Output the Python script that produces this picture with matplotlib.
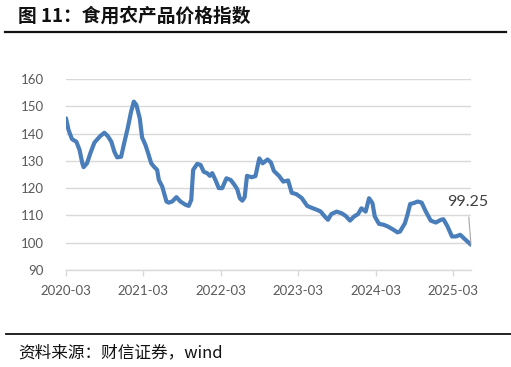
import matplotlib
matplotlib.use("Agg")
import matplotlib.pyplot as plt
from matplotlib.lines import Line2D
import pandas as pd

plt.rcParams['font.family'] = ['Lato', 'Noto Sans CJK SC', 'DejaVu Sans']

# food agricultural product price index
dates = [
    "2020-03-01", "2020-03-13", "2020-03-29", "2020-04-19", "2020-05-04", "2020-05-17",
    "2020-05-23", "2020-06-08", "2020-06-24", "2020-07-13", "2020-07-28", "2020-08-10",
    "2020-08-29", "2020-09-14", "2020-10-01", "2020-10-15", "2020-10-28", "2020-11-16",
    "2020-12-02", "2020-12-17", "2021-01-02", "2021-01-15", "2021-01-27", "2021-02-12",
    "2021-02-23", "2021-03-11", "2021-03-26", "2021-04-07", "2021-04-22", "2021-05-05",
    "2021-05-13", "2021-05-29", "2021-06-18", "2021-06-29", "2021-07-15", "2021-08-04",
    "2021-08-23", "2021-09-16", "2021-10-01", "2021-10-13", "2021-10-22", "2021-11-10",
    "2021-11-26", "2021-12-11", "2021-12-27", "2022-01-09", "2022-01-20", "2022-02-04",
    "2022-02-20", "2022-03-08", "2022-03-28", "2022-04-17", "2022-05-02", "2022-05-18",
    "2022-05-30", "2022-06-11", "2022-06-22", "2022-07-03", "2022-07-25", "2022-08-12",
    "2022-08-30", "2022-09-15", "2022-10-08", "2022-10-24", "2022-11-07", "2022-12-01",
    "2022-12-21", "2023-01-13", "2023-01-30", "2023-02-21", "2023-03-18", "2023-04-13",
    "2023-05-04", "2023-05-31", "2023-06-16", "2023-07-05", "2023-07-20", "2023-08-05",
    "2023-08-30", "2023-09-22", "2023-10-12", "2023-11-01", "2023-11-20", "2023-12-09",
    "2023-12-25", "2024-01-14", "2024-01-22", "2024-01-30", "2024-02-15", "2024-02-26",
    "2024-03-17", "2024-04-07", "2024-04-26", "2024-05-19", "2024-06-12", "2024-06-24",
    "2024-07-17", "2024-07-29", "2024-08-11", "2024-08-27", "2024-09-15", "2024-10-04",
    "2024-10-24", "2024-11-16", "2024-12-10", "2025-01-03", "2025-01-15", "2025-02-03",
    "2025-02-24", "2025-03-15", "2025-04-04", "2025-04-26", "2025-05-25",
]
values = [
    145.6, 141.3, 138.0, 137.0, 134.0, 129.1,
    127.7, 129.1, 132.8, 136.7, 138.0, 139.1,
    140.3, 139.1, 137.0, 133.4, 131.3, 131.5,
    137.0, 141.9, 148.0, 151.7, 150.5, 145.6,
    138.6, 135.8, 132.2, 129.1, 127.7, 126.7,
    123.0, 120.6, 115.1, 114.7, 115.1, 116.7,
    115.1, 113.9, 113.5, 115.7, 126.7, 128.9,
    128.5, 126.0, 125.5, 124.5, 125.5, 123.0,
    120.0, 120.0, 123.6, 123.0, 121.5, 119.6,
    116.3, 115.4, 116.7, 124.5, 124.0, 124.4,
    130.9, 129.1, 130.5, 129.4, 126.3, 124.5,
    122.4, 122.8, 118.3, 117.8, 116.4, 113.5,
    112.8, 112.0, 111.4, 109.6, 108.4, 110.5,
    111.4, 110.8, 109.8, 108.1, 109.6, 110.5,
    112.6, 111.4, 113.9, 116.3, 114.5, 109.6,
    106.9, 106.6, 106.0, 105.0, 103.8, 104.1,
    107.1, 110.2, 114.2, 114.5, 115.1, 114.7,
    111.4, 108.1, 107.4, 108.4, 108.6, 106.0,
    102.3, 102.3, 102.9, 101.3, 99.25,
]
y_ticks = [90, 100, 110, 120, 130, 140, 150, 160]
x_tick_labels = ["2020-03", "2021-03", "2022-03", "2023-03", "2024-03", "2025-03"]

title = "图 11：食用农产品价格指数"
source = "资料来源：财信证券，wind"

x = pd.to_datetime(dates)
xt = pd.to_datetime([s + "-01" for s in x_tick_labels])

fig = plt.figure(figsize=(5.11, 3.67), dpi=100, facecolor='white')
ax = fig.add_axes([66 / 511, 1 - 270 / 367, 405 / 511, 191 / 367])

ax.plot(x, values, color='#4A7EBB', lw=3.0, solid_capstyle='round', solid_joinstyle='round', zorder=3)

ax.set_xlim(x[0], x[-1])
ax.set_ylim(y_ticks[0], y_ticks[-1])
ax.set_yticks(y_ticks)
ax.set_xticks(xt)
ax.set_xticklabels(x_tick_labels)
ax.grid(axis='y', color='#D9D9D9', lw=1.0)
ax.set_axisbelow(True)
for s in ['top', 'right', 'left']:
    ax.spines[s].set_visible(False)
ax.spines['bottom'].set_color('#D9D9D9')
ax.spines['bottom'].set_linewidth(1.0)
ax.tick_params(axis='y', length=0, pad=16, labelsize=9.5, labelcolor='#595959')
ax.tick_params(axis='x', length=4, width=1, color='#D9D9D9', pad=7, labelsize=9.5, labelcolor='#595959')

# last value label
ax.annotate(f"{values[-1]:.2f}", xy=(x[-1], values[-1]), xytext=(-2.5, 31),
            textcoords='offset points', ha='center', va='center', fontsize=11.5, color='#404040',
            arrowprops=dict(arrowstyle='-', color='#A6A6A6', lw=0.8, shrinkA=4, shrinkB=0),
            annotation_clip=False)

fig.text(18 / 511, 1 - 16 / 367, title, fontsize=13.5, fontweight='bold',
         family=['Noto Sans CJK SC', 'DejaVu Sans'], ha='left', va='center', color='#111111')
fig.add_artist(Line2D([5 / 511, 506 / 511], [1 - 32 / 367] * 2, color='#111111', lw=1.6))
fig.add_artist(Line2D([6 / 511, 511 / 511], [1 - 334 / 367] * 2, color='#111111', lw=1.3))
fig.text(18 / 511, 1 - 353 / 367, source, fontsize=12, style='italic',
         family=['Noto Sans CJK SC', 'DejaVu Sans'], ha='left', va='center', color='#111111')

fig.savefig("out.png", dpi=100, facecolor='white')
